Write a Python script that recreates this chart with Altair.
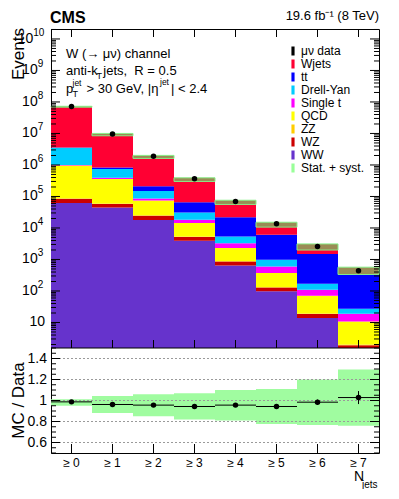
import altair as alt
import pandas as pd
import numpy as np

# ---------------- data ----------------
bins = [0, 1, 2, 3, 4, 5, 6, 7]
bin_labels = ["≥ 0", "≥ 1", "≥ 2", "≥ 3", "≥ 4", "≥ 5", "≥ 6", "≥ 7"]

# stacking order, bottom -> top
processes = ["WW", "WZ", "ZZ", "QCD", "Single t", "Drell-Yan", "tt", "Wjets"]
ww = [6.2e4, 4.5e4, 1.8e4, 3900, 650, 98, 13.9, 1.0]
wz = [2.3e4, 1.3e4, 6.6e3, 1300, 220, 32, 4.7, 0.9]
zz = [2.0e3, 2.0e3, 900, 200, 30, 5, 0.6, 0.1]
qcd = [8.7e5, 3.0e5, 4.95e4, 9000, 1400, 235, 52, 8.7]
single_t = [4.0e4, 3.0e4, 1.2e4, 3900, 1000, 230, 39, 8.3]
drell_yan = [2.5e6, 3.5e5, 6.3e4, 12700, 2100, 380, 60, 8.5]
ttbar = [1.0e5, 9.0e4, 6.0e4, 34000, 16600, 5120, 1330, 392]
wjets = [6.75e7, 8.4e6, 1.61e6, 2.8e5, 4.4e4, 6800, 1060, 32]
series = [ww, wz, zz, qcd, single_t, drell_yan, ttbar, wjets]

data_vals = [7.2e7, 9.6e6, 1.9e6, 3.66e5, 6.9e4, 1.37e4, 2.6e3, 440]
ratio = [0.987, 0.962, 0.956, 0.943, 0.956, 0.943, 0.984, 1.028]
ratio_err = [0.002, 0.003, 0.004, 0.006, 0.01, 0.015, 0.025, 0.062]
band_lo = [0.950, 0.880, 0.850, 0.820, 0.810, 0.777, 0.767, 0.760]
band_hi = [1.012, 1.043, 1.060, 1.070, 1.100, 1.110, 1.200, 1.295]

legend_order = ["μν data", "Wjets", "tt", "Drell-Yan", "Single t", "QCD",
                "ZZ", "WZ", "WW", "Stat. + syst."]
legend_colors = ["#000000", "#ff0033", "#0000ff", "#00ccff", "#ff00ff",
                 "#ffff00", "#ffcc00", "#cc0000", "#6633cc", "#99ff99"]

top_exps = [1, 2, 3, 4, 5, 6, 7, 8, 9, 10]
ratio_ticks = [0.6, 0.8, 1.0, 1.2, 1.4]
ratio_tick_labels = ["0.6", "0.8", "1", "1.2", "1.4"]

# ---------------- geometry ----------------
W, H, TOPH = 328, 424, 319
FONT = "Liberation Sans"
NB = "\u00a0"

xs = alt.Scale(domain=[-0.5, 7.5], range=[0, W], nice=False, zero=False)
ytop = alt.Scale(type="log", domain=[1.55, 2.07e10], range=[TOPH, 0], clamp=True, nice=False)
yrat = alt.Scale(domain=[0.5, 1.5], range=[H, TOPH], nice=False, zero=False)

# ---------------- tables ----------------
rows = []
for b in bins:
    cum = 0.0
    for p, vals in zip(processes, series):
        lo = cum
        cum += vals[b]
        rows.append(dict(b0=b - 0.5, b1=b + 0.5, lo=max(lo, 1.0), hi=cum, proc=p))
stack_df = pd.DataFrame(rows)

pts_df = pd.DataFrame({
    "b": bins, "b0": [b - 0.5 for b in bins], "b1": [b + 0.5 for b in bins],
    "data": data_vals,
    "tlo": [d * l for d, l in zip(data_vals, band_lo)],
    "thi": [d * h for d, h in zip(data_vals, band_hi)],
    "r": ratio,
    "rlo": [r - e for r, e in zip(ratio, ratio_err)],
    "rhi": [r + e for r, e in zip(ratio, ratio_err)],
    "blo": band_lo, "bhi": band_hi, "lab": bin_labels,
})

major_df = pd.DataFrame({"v": [10.0 ** e for e in top_exps], "e": top_exps})
minor_vals = [k * 10.0 ** n for n in range(0, 11) for k in range(2, 10)
              if 1.55 <= k * 10.0 ** n <= 2.07e10]
minor_df = pd.DataFrame({"v": minor_vals})
rmajor_df = pd.DataFrame({"v": ratio_ticks, "lab": ratio_tick_labels})
rminor_vals = [round(0.5 + 0.05 * i, 2) for i in range(21)]
rminor_vals = [v for v in rminor_vals if all(abs(v - t) > 1e-6 for t in ratio_ticks)]
rminor_df = pd.DataFrame({"v": rminor_vals})

leg = alt.Legend(title=None, orient="none", legendX=236, legendY=16,
                 symbolType="M-0.35,-1L0.35,-1L0.35,1L-0.35,1Z", symbolSize=81,
                 symbolStrokeWidth=0, labelFont=FONT, labelFontSize=12,
                 labelColor="black", rowPadding=1, padding=0, labelOffset=2,
                 symbolOpacity=1)

X = lambda f: alt.X(f, scale=xs, axis=None)
YT = lambda f: alt.Y(f, scale=ytop, axis=None)
YR = lambda f: alt.Y(f, scale=yrat, axis=None)


def txt(s, x, y, size=13, align="left", baseline="middle", weight="normal", angle=0):
    return alt.Chart(pd.DataFrame({"t": [s]})).mark_text(
        font=FONT, fontSize=size, align=align, baseline=baseline,
        fontWeight=weight, angle=angle, color="black"
    ).encode(text="t:N", x=alt.value(x), y=alt.value(y))


# ---------------- top panel ----------------
stack = alt.Chart(stack_df).mark_rect(strokeWidth=0).encode(
    x=X("b0:Q"), x2="b1:Q", y=YT("hi:Q"), y2="lo:Q",
    color=alt.Color("proc:N", scale=alt.Scale(domain=legend_order, range=legend_colors), legend=leg),
)
band = alt.Chart(pts_df).mark_rect(fill="#9a8c55", stroke="#88ee88", strokeWidth=1).encode(
    x=X("b0:Q"), x2="b1:Q", y=YT("tlo:Q"), y2="thi:Q")
dots = alt.Chart(pts_df).mark_circle(size=30, color="black", opacity=1).encode(
    x=X("b:Q"), y=YT("data:Q"))

lt_major = alt.Chart(major_df).mark_rule(color="black").encode(
    y=YT("v:Q"), x=alt.value(0), x2=alt.value(9))
lt_minor = alt.Chart(minor_df).mark_rule(color="black").encode(
    y=YT("v:Q"), x=alt.value(0), x2=alt.value(5))
rt_major = alt.Chart(major_df).mark_rule(color="black").encode(
    y=YT("v:Q"), x=alt.value(W), x2=alt.value(W - 9))
rt_minor = alt.Chart(minor_df).mark_rule(color="black").encode(
    y=YT("v:Q"), x=alt.value(W), x2=alt.value(W - 5))
xt_top = alt.Chart(pts_df).mark_rule(color="black").encode(
    x=X("b:Q"), y=alt.value(0), y2=alt.value(8))
xt_bot = alt.Chart(pts_df).mark_rule(color="black").encode(
    x=X("b:Q"), y=alt.value(TOPH), y2=alt.value(TOPH - 8))

base_1 = alt.Chart(major_df).transform_filter("datum.e == 1").mark_text(
    font=FONT, fontSize=14, align="right", baseline="middle").encode(
    y=YT("v:Q"), x=alt.value(-6), text=alt.value("10"))
base_mid = alt.Chart(major_df).transform_filter("datum.e > 1 && datum.e < 10").mark_text(
    font=FONT, fontSize=14, align="right", baseline="middle").encode(
    y=YT("v:Q"), x=alt.value(-13.3), text=alt.value("10"))
base_10 = alt.Chart(major_df).transform_filter("datum.e >= 10").mark_text(
    font=FONT, fontSize=14, align="right", baseline="middle").encode(
    y=YT("v:Q"), x=alt.value(-17.7), text=alt.value("10"))
exp_mid = alt.Chart(major_df).transform_filter("datum.e > 1 && datum.e < 10").mark_text(
    font=FONT, fontSize=10, align="left", baseline="middle", dy=-6).encode(
    y=YT("v:Q"), x=alt.value(-13.3), text="e:N")
exp_10 = alt.Chart(major_df).transform_filter("datum.e >= 10").mark_text(
    font=FONT, fontSize=10, align="left", baseline="middle", dy=-6).encode(
    y=YT("v:Q"), x=alt.value(-17.7), text="e:N")

top = alt.layer(stack, band, dots, lt_major, lt_minor, rt_major, rt_minor,
                xt_top, xt_bot, base_1, base_mid, base_10, exp_mid, exp_10)

# ---------------- ratio panel ----------------
rband = alt.Chart(pts_df).mark_rect(fill="#a0fca0", strokeWidth=0).encode(
    x=X("b0:Q"), x2="b1:Q", y=YR("blo:Q"), y2="bhi:Q")
grid = alt.Chart(rmajor_df).mark_rule(color="#9a9a9a", strokeDash=[2, 2], strokeWidth=1).encode(
    y=YR("v:Q"), x=alt.value(0), x2=alt.value(W))
sep = alt.Chart(pd.DataFrame({"v": [1.5]})).mark_rule(color="black").encode(
    y=YR("v:Q"), x=alt.value(0), x2=alt.value(W))
rh = alt.Chart(pts_df).mark_rule(color="black").encode(x=X("b0:Q"), x2="b1:Q", y=YR("r:Q"))
rv = alt.Chart(pts_df).mark_rule(color="black").encode(x=X("b:Q"), y=YR("rlo:Q"), y2="rhi:Q")
rdots = alt.Chart(pts_df).mark_circle(size=30, color="black", opacity=1).encode(
    x=X("b:Q"), y=YR("r:Q"))
lr_major = alt.Chart(rmajor_df).mark_rule(color="black").encode(
    y=YR("v:Q"), x=alt.value(0), x2=alt.value(9))
lr_minor = alt.Chart(rminor_df).mark_rule(color="black").encode(
    y=YR("v:Q"), x=alt.value(0), x2=alt.value(5))
rr_major = alt.Chart(rmajor_df).mark_rule(color="black").encode(
    y=YR("v:Q"), x=alt.value(W), x2=alt.value(W - 9))
rr_minor = alt.Chart(rminor_df).mark_rule(color="black").encode(
    y=YR("v:Q"), x=alt.value(W), x2=alt.value(W - 5))
rxt = alt.Chart(pts_df).mark_rule(color="black").encode(
    x=X("b:Q"), y=alt.value(H), y2=alt.value(H - 9))
rlabels = alt.Chart(rmajor_df).mark_text(
    font=FONT, fontSize=14, align="right", baseline="middle").encode(
    y=YR("v:Q"), x=alt.value(-4), text="lab:N")
xlabels = alt.Chart(pts_df).mark_text(
    font=FONT, fontSize=12, align="center", baseline="middle").encode(
    x=X("b:Q"), y=alt.value(433.5), text="lab:N")

ratio_panel = alt.layer(rband, grid, rh, rv, rdots, sep, lr_major, lr_minor,
                        rr_major, rr_minor, rxt, rlabels, xlabels)

# ---------------- annotations ----------------
notes = alt.layer(
    txt("CMS", -1, -6, size=16, weight="bold", baseline="alphabetic"),
    txt("19.6 fb⁻¹ (8 TeV)", W, -9, size=13, align="right", baseline="alphabetic"),
    txt("W (→ μν) channel", 15, 24.7, size=13),
    txt("anti-k", 15, 42.4, size=13),
    txt("T", 45.5, 46.5, size=9),
    txt("jets," + NB + " R = 0.5", 52.3, 42.4, size=13),
    txt("p", 15, 60, size=13),
    txt("jet", 21.5, 54, size=8.5),
    txt("T", 21.5, 64.5, size=9),
    txt("> 30 GeV, |η", 35.5, 60, size=13),
    txt("jet", 109, 53, size=8.5),
    txt("| < 2.4", 120, 60, size=13),
    txt("Events", -32, -1, size=17, align="right", angle=270),
    txt("MC / Data", -32, 371.5, size=17, align="center", angle=270),
    txt("N", 303, 448, size=14),
    txt("jets", 311, 455.5, size=10),
)

chart = alt.layer(top, ratio_panel, notes).resolve_scale(y="independent").properties(
    width=W, height=H,
    padding={"left": 43, "top": 21, "right": 12, "bottom": 36},
    autosize=alt.AutoSizeParams(type="none"),
).configure_view(stroke="black", strokeWidth=1).configure_axis(disable=True)

chart.save("out.html", embed_options={"renderer": "svg", "actions": False})
